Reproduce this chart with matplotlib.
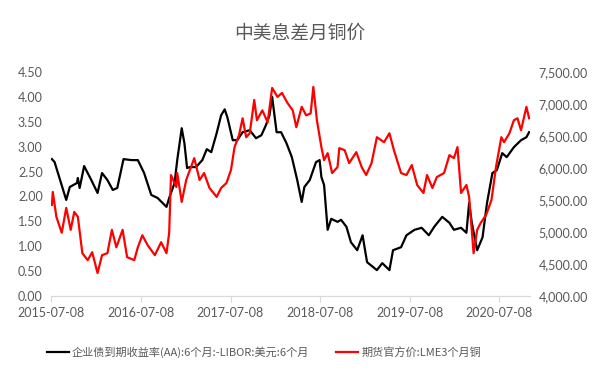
import numpy as np
import matplotlib
matplotlib.use('Agg')
import matplotlib.pyplot as plt

plt.rcParams['font.family'] = ['Lato', 'Noto Sans CJK SC', 'DejaVu Sans']

# 利差（左轴），x 为小数年份
spread_t = [2015.52, 2015.55, 2015.68, 2015.72, 2015.80, 2015.81, 2015.83, 2015.88, 2015.96,
            2016.03, 2016.08, 2016.14, 2016.20, 2016.25, 2016.32, 2016.41, 2016.48, 2016.55,
            2016.63, 2016.70, 2016.80, 2016.83, 2016.89, 2016.92, 2016.97, 2017.00, 2017.03,
            2017.06, 2017.13, 2017.20, 2017.25, 2017.30, 2017.36, 2017.41, 2017.45, 2017.48,
            2017.54, 2017.59, 2017.65, 2017.73, 2017.80, 2017.86, 2017.91, 2017.95, 2017.98,
            2018.03, 2018.08, 2018.14, 2018.20, 2018.26, 2018.31, 2018.34, 2018.40, 2018.47,
            2018.51, 2018.53, 2018.56, 2018.60, 2018.64, 2018.71, 2018.75, 2018.81, 2018.86,
            2018.93, 2018.99, 2019.04, 2019.15, 2019.21, 2019.29, 2019.33, 2019.42, 2019.48,
            2019.57, 2019.65, 2019.73, 2019.79, 2019.88, 2019.96, 2020.01, 2020.09, 2020.15,
            2020.18, 2020.21, 2020.27, 2020.33, 2020.38, 2020.44, 2020.49, 2020.55, 2020.60,
            2020.68, 2020.76, 2020.82, 2020.85]
spread = [2.75, 2.69, 1.93, 2.19, 2.27, 2.37, 2.17, 2.61, 2.33,
          2.07, 2.47, 2.33, 2.13, 2.17, 2.75, 2.73, 2.73, 2.47,
          2.03, 1.97, 1.79, 1.97, 2.27, 2.73, 3.37, 3.07, 2.57,
          2.59, 2.59, 2.73, 2.95, 2.89, 3.27, 3.63, 3.75, 3.59,
          3.13, 3.13, 3.29, 3.33, 3.17, 3.23, 3.43, 3.63, 4.00,
          3.29, 3.29, 3.07, 2.79, 2.33, 1.89, 2.19, 2.33, 2.69,
          2.73, 2.39, 2.23, 1.33, 1.55, 1.49, 1.53, 1.39, 1.08,
          0.92, 1.22, 0.68, 0.52, 0.66, 0.52, 0.92, 0.98, 1.22,
          1.33, 1.37, 1.22, 1.39, 1.59, 1.47, 1.33, 1.37, 1.27,
          1.87, 1.47, 0.92, 1.18, 1.87, 2.47, 2.53, 2.87, 2.79,
          2.99, 3.13, 3.19, 3.29]

# LME3个月铜（右轴）
copper_t = [2015.52, 2015.53, 2015.57, 2015.63, 2015.68, 2015.73, 2015.77, 2015.81, 2015.86,
            2015.92, 2015.97, 2016.03, 2016.08, 2016.14, 2016.19, 2016.24, 2016.31, 2016.36,
            2016.44, 2016.48, 2016.53, 2016.59, 2016.67, 2016.74, 2016.80, 2016.83, 2016.85,
            2016.91, 2016.92, 2016.97, 2017.02, 2017.11, 2017.17, 2017.22, 2017.28, 2017.36,
            2017.41, 2017.47, 2017.52, 2017.56, 2017.61, 2017.65, 2017.69, 2017.73, 2017.78,
            2017.81, 2017.87, 2017.93, 2017.98, 2018.04, 2018.09, 2018.15, 2018.21, 2018.25,
            2018.31, 2018.36, 2018.41, 2018.44, 2018.48, 2018.53, 2018.56, 2018.60, 2018.65,
            2018.71, 2018.73, 2018.79, 2018.84, 2018.92, 2018.98, 2019.03, 2019.09, 2019.15,
            2019.23, 2019.29, 2019.34, 2019.42, 2019.48, 2019.54, 2019.60, 2019.67, 2019.71,
            2019.77, 2019.82, 2019.90, 2019.96, 2020.01, 2020.05, 2020.09, 2020.15, 2020.18,
            2020.23, 2020.27, 2020.31, 2020.37, 2020.43, 2020.48, 2020.54, 2020.57, 2020.63,
            2020.68, 2020.72, 2020.76, 2020.82, 2020.85]
copper = [5423, 5626, 5237, 4988, 5377, 5034, 5314, 5237, 4669,
          4560, 4684, 4358, 4638, 4669, 5034, 4762, 5034, 4607,
          4560, 4762, 4949, 4793, 4638, 4840, 4669, 4988, 5890,
          5703, 5921, 5470, 5812, 6154, 5812, 5921, 5688, 5548,
          5688, 5766, 5968, 6326, 6512, 6777, 6481, 6543, 7064,
          6746, 6901, 6714, 7251, 7111, 7173, 7018, 6901, 6637,
          6956, 6823, 6854, 7267, 6746, 6326, 6123, 6232, 5921,
          6014, 6310, 6279, 6077, 6248, 6014, 5890, 6077, 6481,
          6403, 6543, 6279, 5921, 5890, 6046, 5734, 5610, 5890,
          5688, 5859, 5921, 6201, 6154, 6326, 5610, 5734, 5548,
          4669, 5034, 5143, 5268, 5501, 6014, 6481, 6403, 6543,
          6746, 6777, 6590, 6956, 6777]

xtick_pos = [2015.515, 2016.515, 2017.515, 2018.515, 2019.515, 2020.515]
xtick_lab = ['2015-07-08', '2016-07-08', '2017-07-08', '2018-07-08', '2019-07-08', '2020-07-08']

grey = '#595959'
fig = plt.figure(figsize=(6, 3.7), dpi=100)
ax = fig.add_axes([51/600, 1-296/370, 479/600, 224/370])
ax2 = ax.twinx()

l1, = ax.plot(spread_t, spread, color='black', lw=1.6, label='企业债到期收益率(AA):6个月:-LIBOR:美元:6个月')
l2, = ax2.plot(copper_t, copper, color='#ff0000', lw=1.6, label='期货官方价:LME3个月铜')

ax.set_xlim(2015.51, 2020.86)
ax.set_ylim(0, 4.5)
ax.set_yticks(np.arange(0, 4.51, 0.5))
ax.set_yticklabels(['%.2f' % v for v in np.arange(0, 4.51, 0.5)])
ax2.set_ylim(4000, 7500)
ax2.set_yticks(np.arange(4000, 7501, 500))
ax2.set_yticklabels(['{:,.2f}'.format(v) for v in np.arange(4000, 7501, 500)])
ax.set_xticks(xtick_pos)
ax.set_xticklabels(xtick_lab)

for a in (ax, ax2):
    for s in ('top', 'left', 'right'):
        a.spines[s].set_visible(False)
    a.spines['bottom'].set_color('#d9d9d9')
ax.tick_params(axis='y', length=0, colors=grey, labelsize=9, pad=6)
ax2.tick_params(axis='y', length=0, colors=grey, labelsize=9, pad=6)
ax.tick_params(axis='x', length=4, color='#d9d9d9', labelcolor=grey, labelsize=9, pad=4)

fig.text(0.5, 0.91, '中美息差月铜价', ha='center', va='center', fontsize=13.5, color=grey,
         family=['Noto Sans CJK SC', 'DejaVu Sans'])
fig.legend([l1, l2], [l1.get_label(), l2.get_label()], loc='center', bbox_to_anchor=(0.44, 0.048),
           ncol=2, frameon=False, labelcolor=grey, handlelength=2.0,
           handletextpad=0.25, columnspacing=2.4,
           prop={'family': ['Noto Sans CJK SC', 'DejaVu Sans'], 'size': 8})

fig.savefig('out.png')
